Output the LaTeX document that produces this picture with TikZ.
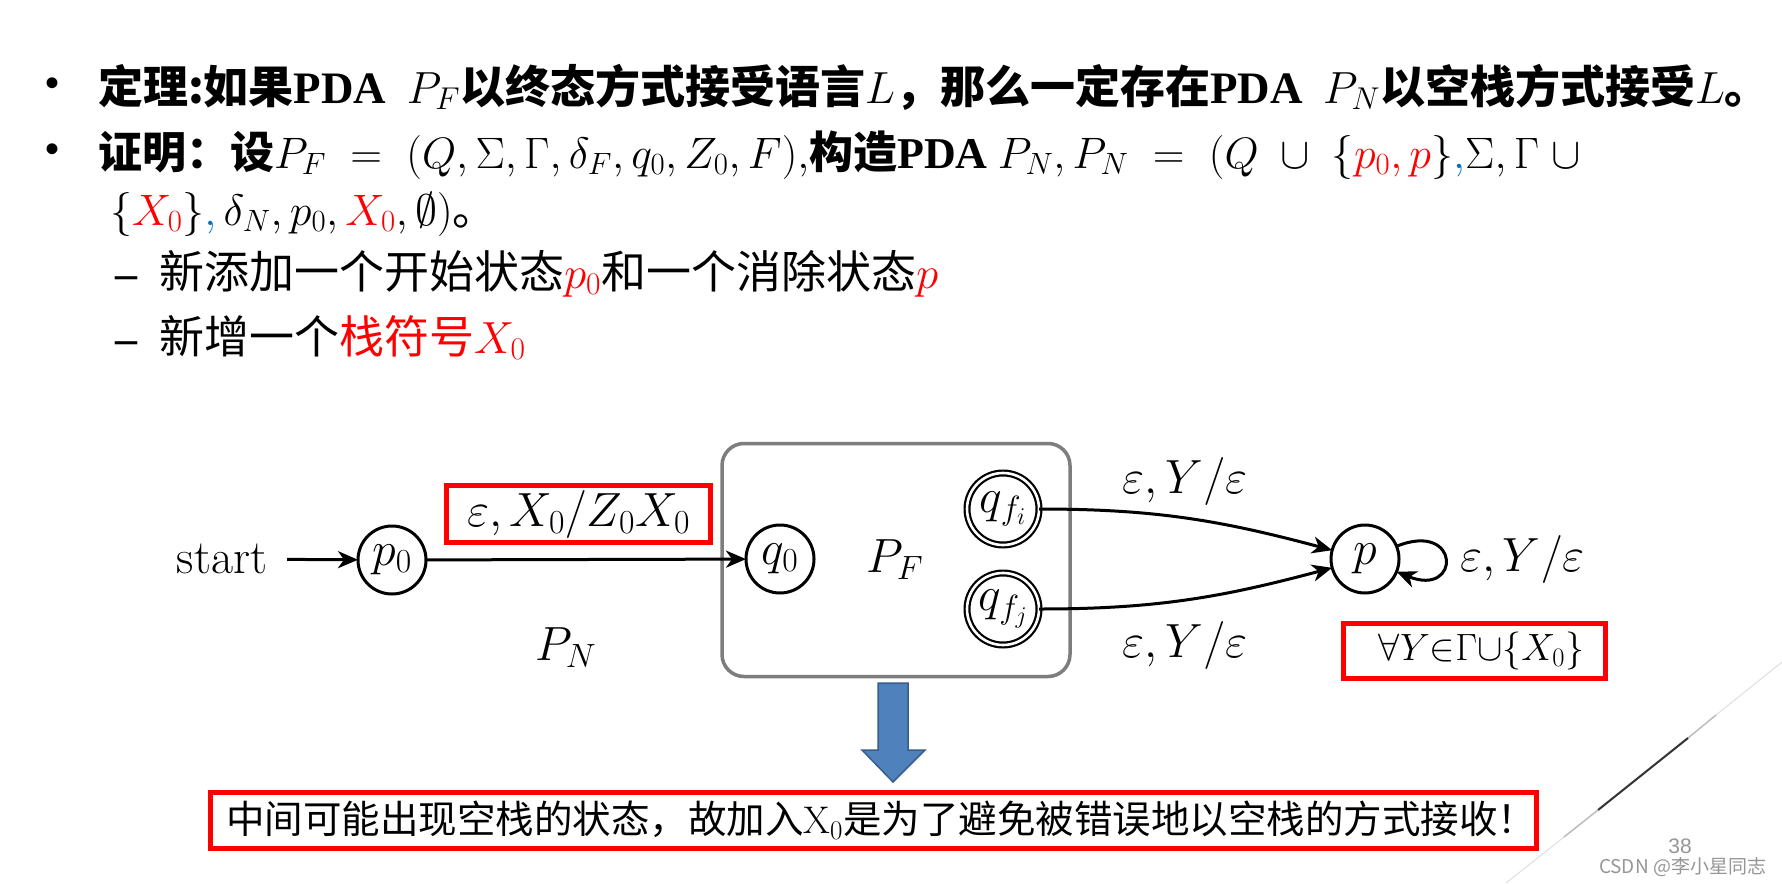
\RequirePackage{fix-cm}
\documentclass[tikz,border=0pt]{standalone}
\usepackage{amssymb}
\usepackage{fontspec}
\newfontfamily\cjk{Noto Sans CJK SC}
\newfontfamily\tnr{Liberation Serif}
\newfontfamily\ars{Liberation Sans}
\usetikzlibrary{arrows.meta}
\definecolor{slidered}{RGB}{255,0,0}
\definecolor{commablue}{RGB}{0,112,192}
\definecolor{arrowblue}{RGB}{79,129,189}
\definecolor{arrowedge}{RGB}{56,93,138}
\definecolor{boxgray}{RGB}{125,125,125}
\definecolor{markgray}{RGB}{150,150,150}
\newcommand\rd[1]{{\color{slidered}#1}}
\newcommand\bc{\textcolor{commablue}{$,$}}
\begin{document}
\begin{tikzpicture}[x=1pt,y=-1pt,
  every node/.style={inner sep=0pt, outer sep=0pt},
  dgm/.style={font=\fontsize{48}{56}\selectfont},
  state/.style={circle, draw, line width=3pt, minimum size=68pt, dgm},
  accst/.style={circle, draw, double, double distance=2.6pt, line width=2.2pt, minimum size=72pt, dgm},
  edg/.style={line width=3pt, -{Stealth[length=20pt,width=17pt,inset=6pt]}},
  redbox/.style={draw=slidered, line width=5pt},
  head/.style={font=\fontsize{45}{52}\selectfont\cjk\bfseries, anchor=base west},
  body/.style={font=\fontsize{45}{52}\selectfont\cjk, anchor=base west},
  bul/.style={font=\fontsize{40}{40}\selectfont\ars},
  dsh/.style={font=\fontsize{44}{52}\selectfont\tnr\bfseries, anchor=base west}]
\fill[white] (0,0) rectangle (1782,883);
\useasboundingbox (0,0) rectangle (1782,883);

% text lines
\node[bul] (b1) at (53,87) {•};
\node[head] (l1) at (98,103) {定理:如果{\tnr PDA}\ \ $P_F$以终态方式接受语言$L$，那么一定存在{\tnr PDA}\ \ $P_N$以空栈方式接受$L$。};
\node[bul] (b2) at (53,153) {•};
\node[head, font=\fontsize{44}{52}\selectfont\cjk\bfseries] (l2) at (98,168) {证明：设$P_F\;=\;(Q,\Sigma,\Gamma,\delta_F,q_0,Z_0,F),$构造{\tnr PDA} $P_N,P_N\;=\;(Q\;\cup\;\{\rd{p_0,p}\}$\bc$\Sigma,\Gamma\;\cup$};
\node[body, font=\fontsize{44}{52}\selectfont\cjk] (l3) at (110,225) {$\{\rd{X_0}\}$\bc$\,\delta_N,p_0,\rd{X_0},\emptyset)$。};
\node[dsh] (d1) at (115,288) {–};
\node[body] (l4) at (159,288) {新添加一个开始状态$\rd{p_0}$和一个消除状态$\rd{p}$};
\node[dsh] (d2) at (115,353) {–};
\node[body] (l5) at (159,353) {新增一个\rd{栈符号$X_0$}};

% diagram
\node[draw=boxgray, line width=3.5pt, rounded corners=22pt, minimum width=348pt, minimum height=233pt] (pf) at (896,560) {};
\node[dgm] (start) at (222,559) {start};
\node[state] (p0) at (392,560) {$p_0$};
\node[state] (q0) at (780,559) {$q_0$};
\node[dgm, anchor=base] (pflabel) at (895,572) {$P_F$};
\node[accst] (qfi) at (1003,509) {$q_{f_i}$};
\node[accst] (qfj) at (1003,609) {$q_{f_j}$};
\node[state] (p) at (1365,559) {$p$};
\node[dgm, anchor=base] (pnlabel) at (566,660) {$P_N$};
\node[redbox, dgm, minimum width=264pt, minimum height=57pt] (lab1) at (578.5,514) {$\varepsilon, X_0/Z_0X_0$};
\node[dgm] (lab2) at (1185,481) {$\varepsilon, Y/\varepsilon$};
\node[dgm] (lab3) at (1185,645) {$\varepsilon, Y/\varepsilon$};
\node[dgm, anchor=west] (lab4) at (1460,559) {$\varepsilon, Y/\varepsilon$};
\node[redbox, minimum width=262pt, minimum height=55pt, font=\fontsize{38}{44}\selectfont] (forall) at (1474.5,651) {\hspace*{14pt}$\forall Y{\in}\Gamma{\cup}\{X_0\}$};

\draw[edg, shorten <=20pt] (start) -- (p0);
\draw[edg] (p0) -- (q0);
\draw[edg] (qfi) to[out=0,in=165] (p);
\draw[edg] (qfj) to[out=0,in=-165] (p);
\draw[edg] (p) to[out=22,in=-22,looseness=7] (p);

% blue arrow
\filldraw[fill=arrowblue, draw=arrowedge, line width=1.5pt] (878,683) -- (908,683) -- (908,750) -- (925,750) -- (893,782) -- (862,750) -- (878,750) -- cycle;

% bottom note
\node[redbox, anchor=west, text width=1295pt, inner xsep=15.5pt, minimum height=56pt, align=left, font=\fontsize{38.5}{44}\selectfont\cjk] (note) at (210.5,820.5) {中间可能出现空栈的状态，故加入$\mathrm{X}_0$是为了避免被错误地以空栈的方式接收！};

% page curl line and watermark
\draw[gray!25, line width=1pt] (1782,662) -- (1716,715);
\draw[gray!55, line width=1.4pt] (1716,715) -- (1688,738);
\draw[black!80, line width=2pt] (1688,738) -- (1598,810);
\draw[gray!55, line width=1.4pt] (1598,810) -- (1564,837);
\draw[gray!25, line width=1pt] (1564,837) -- (1506,883);
\node[font=\fontsize{21}{22}\selectfont\ars, text=markgray] (pg) at (1680,846) {38};
\node[font=\fontsize{19}{22}\selectfont\cjk, text=markgray, anchor=base east] (wm) at (1766,873) {CSDN @李小星同志};
\end{tikzpicture}
\end{document}
